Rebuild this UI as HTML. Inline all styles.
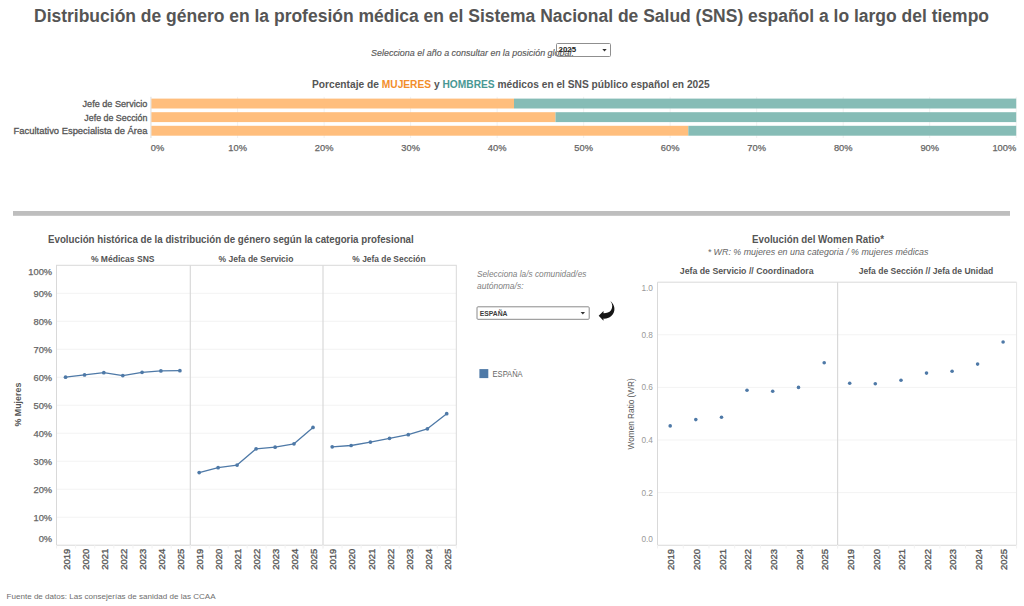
<!DOCTYPE html>
<html><head><meta charset="utf-8"><title>Distribución de género SNS</title>
<style>html,body{margin:0;padding:0;background:#fff;width:1024px;height:606px;overflow:hidden}svg{display:block}text{font-family:"Liberation Sans",sans-serif}</style></head>
<body><svg width="1024" height="606" viewBox="0 0 1024 606">
<rect width="1024" height="606" fill="#fff"/>
<text x="511.5" y="21.8" font-size="17.5" font-weight="bold" font-style="normal" fill="#555" text-anchor="middle" textLength="955" lengthAdjust="spacingAndGlyphs">Distribución de género en la profesión médica en el Sistema Nacional de Salud (SNS) español a lo largo del tiempo</text>
<text x="371" y="55.6" font-size="9" font-weight="normal" font-style="italic" fill="#5a5a5a" text-anchor="start" textLength="203" lengthAdjust="spacingAndGlyphs" stroke="#5a5a5a" stroke-width="0.15">Selecciona el año a consultar en la posición global.</text>
<rect x="556.5" y="43.5" width="54" height="13" rx="1" fill="none" stroke="#8f8f8f" stroke-width="1"/>
<text x="558.6" y="52" font-size="7.5" font-weight="bold" font-style="normal" fill="#222" text-anchor="start" textLength="17.5" lengthAdjust="spacingAndGlyphs">2025</text>
<path d="M602.3 49 L606.7 49 L604.5 51.6 Z" fill="#333"/>
<text x="312" y="87.6" font-size="10.6" font-weight="bold" fill="#555" textLength="397.6" lengthAdjust="spacingAndGlyphs">Porcentaje de <tspan fill="#F28E2B">MUJERES</tspan> y <tspan fill="#499894">HOMBRES</tspan> médicos en el SNS público español en 2025</text>
<text x="147.4" y="107.1" font-size="9.3" font-weight="normal" font-style="normal" fill="#555" text-anchor="end" textLength="64.9" lengthAdjust="spacingAndGlyphs" stroke="#555" stroke-width="0.3">Jefe de Servicio</text>
<text x="147.4" y="120.6" font-size="9.3" font-weight="normal" font-style="normal" fill="#555" text-anchor="end" textLength="63.1" lengthAdjust="spacingAndGlyphs" stroke="#555" stroke-width="0.3">Jefe de Sección</text>
<text x="147.4" y="134.1" font-size="9.3" font-weight="normal" font-style="normal" fill="#555" text-anchor="end" textLength="133.8" lengthAdjust="spacingAndGlyphs" stroke="#555" stroke-width="0.3">Facultativo Especialista de Área</text>
<line x1="151.1" y1="96.8" x2="151.1" y2="138" stroke="#f1f1f1" stroke-width="1"/>
<line x1="237.61" y1="96.8" x2="237.61" y2="138" stroke="#f1f1f1" stroke-width="1"/>
<line x1="324.12" y1="96.8" x2="324.12" y2="138" stroke="#f1f1f1" stroke-width="1"/>
<line x1="410.63" y1="96.8" x2="410.63" y2="138" stroke="#f1f1f1" stroke-width="1"/>
<line x1="497.14" y1="96.8" x2="497.14" y2="138" stroke="#f1f1f1" stroke-width="1"/>
<line x1="583.65" y1="96.8" x2="583.65" y2="138" stroke="#f1f1f1" stroke-width="1"/>
<line x1="670.1600000000001" y1="96.8" x2="670.1600000000001" y2="138" stroke="#f1f1f1" stroke-width="1"/>
<line x1="756.67" y1="96.8" x2="756.67" y2="138" stroke="#f1f1f1" stroke-width="1"/>
<line x1="843.1800000000001" y1="96.8" x2="843.1800000000001" y2="138" stroke="#f1f1f1" stroke-width="1"/>
<line x1="929.69" y1="96.8" x2="929.69" y2="138" stroke="#f1f1f1" stroke-width="1"/>
<line x1="1016.2" y1="96.8" x2="1016.2" y2="138" stroke="#f1f1f1" stroke-width="1"/>
<rect x="151.1" y="98.6" width="362.9" height="9.9" fill="#FFBE7D"/>
<rect x="514.0" y="98.6" width="502.20000000000005" height="9.9" fill="#86BCB6"/>
<rect x="151.1" y="112.2" width="404.4" height="9.9" fill="#FFBE7D"/>
<rect x="555.5" y="112.2" width="460.70000000000005" height="9.9" fill="#86BCB6"/>
<rect x="151.1" y="125.8" width="537.1999999999999" height="9.9" fill="#FFBE7D"/>
<rect x="688.3" y="125.8" width="327.9000000000001" height="9.9" fill="#86BCB6"/>
<line x1="150.9" y1="96.8" x2="150.9" y2="138" stroke="#e2e2e2" stroke-width="1"/>
<text x="150.8" y="151.2" font-size="9.3" font-weight="normal" font-style="normal" fill="#666" text-anchor="start" stroke="#666" stroke-width="0.25">0%</text>
<text x="237.61" y="151.2" font-size="9.3" font-weight="normal" font-style="normal" fill="#666" text-anchor="middle" stroke="#666" stroke-width="0.25">10%</text>
<text x="324.12" y="151.2" font-size="9.3" font-weight="normal" font-style="normal" fill="#666" text-anchor="middle" stroke="#666" stroke-width="0.25">20%</text>
<text x="410.63" y="151.2" font-size="9.3" font-weight="normal" font-style="normal" fill="#666" text-anchor="middle" stroke="#666" stroke-width="0.25">30%</text>
<text x="497.14" y="151.2" font-size="9.3" font-weight="normal" font-style="normal" fill="#666" text-anchor="middle" stroke="#666" stroke-width="0.25">40%</text>
<text x="583.65" y="151.2" font-size="9.3" font-weight="normal" font-style="normal" fill="#666" text-anchor="middle" stroke="#666" stroke-width="0.25">50%</text>
<text x="670.16" y="151.2" font-size="9.3" font-weight="normal" font-style="normal" fill="#666" text-anchor="middle" stroke="#666" stroke-width="0.25">60%</text>
<text x="756.67" y="151.2" font-size="9.3" font-weight="normal" font-style="normal" fill="#666" text-anchor="middle" stroke="#666" stroke-width="0.25">70%</text>
<text x="843.18" y="151.2" font-size="9.3" font-weight="normal" font-style="normal" fill="#666" text-anchor="middle" stroke="#666" stroke-width="0.25">80%</text>
<text x="929.69" y="151.2" font-size="9.3" font-weight="normal" font-style="normal" fill="#666" text-anchor="middle" stroke="#666" stroke-width="0.25">90%</text>
<text x="1016.2" y="151.2" font-size="9.3" font-weight="normal" font-style="normal" fill="#666" text-anchor="end" stroke="#666" stroke-width="0.25">100%</text>
<rect x="13" y="211" width="997" height="4.8" fill="#BEBEBE"/>
<text x="48" y="242.6" font-size="10.5" font-weight="bold" font-style="normal" fill="#555" text-anchor="start" textLength="365.7" lengthAdjust="spacingAndGlyphs">Evolución histórica de la distribución de género según la categoria profesional</text>
<text x="122.7" y="262.1" font-size="8.8" font-weight="bold" font-style="normal" fill="#555" text-anchor="middle" textLength="63.6" lengthAdjust="spacingAndGlyphs">% Médicas SNS</text>
<text x="255.95" y="262.1" font-size="8.8" font-weight="bold" font-style="normal" fill="#555" text-anchor="middle" textLength="74.9" lengthAdjust="spacingAndGlyphs">% Jefa de Servicio</text>
<text x="388.95" y="262.1" font-size="8.8" font-weight="bold" font-style="normal" fill="#555" text-anchor="middle" textLength="73.2" lengthAdjust="spacingAndGlyphs">% Jefa de Sección</text>
<line x1="56.5" y1="517.21" x2="456.3" y2="517.21" stroke="#f3f3f3" stroke-width="1"/>
<line x1="56.5" y1="489.22" x2="456.3" y2="489.22" stroke="#f3f3f3" stroke-width="1"/>
<line x1="56.5" y1="461.23" x2="456.3" y2="461.23" stroke="#f3f3f3" stroke-width="1"/>
<line x1="56.5" y1="433.24" x2="456.3" y2="433.24" stroke="#f3f3f3" stroke-width="1"/>
<line x1="56.5" y1="405.25" x2="456.3" y2="405.25" stroke="#f3f3f3" stroke-width="1"/>
<line x1="56.5" y1="377.26" x2="456.3" y2="377.26" stroke="#f3f3f3" stroke-width="1"/>
<line x1="56.5" y1="349.27" x2="456.3" y2="349.27" stroke="#f3f3f3" stroke-width="1"/>
<line x1="56.5" y1="321.28" x2="456.3" y2="321.28" stroke="#f3f3f3" stroke-width="1"/>
<line x1="56.5" y1="293.29" x2="456.3" y2="293.29" stroke="#f3f3f3" stroke-width="1"/>
<rect x="56.5" y="265.3" width="399.8" height="279.90000000000003" fill="none" stroke="#d9d9d9" stroke-width="1"/>
<line x1="190.3" y1="265.3" x2="190.3" y2="545.2" stroke="#d9d9d9" stroke-width="1.2"/>
<line x1="323.0" y1="265.3" x2="323.0" y2="545.2" stroke="#d9d9d9" stroke-width="1.2"/>
<text x="52.1" y="542.2" font-size="9.3" font-weight="normal" font-style="normal" fill="#666" text-anchor="end" stroke="#666" stroke-width="0.25">0%</text>
<text x="52.1" y="520.51" font-size="9.3" font-weight="normal" font-style="normal" fill="#666" text-anchor="end" stroke="#666" stroke-width="0.25">10%</text>
<text x="52.1" y="492.52" font-size="9.3" font-weight="normal" font-style="normal" fill="#666" text-anchor="end" stroke="#666" stroke-width="0.25">20%</text>
<text x="52.1" y="464.53" font-size="9.3" font-weight="normal" font-style="normal" fill="#666" text-anchor="end" stroke="#666" stroke-width="0.25">30%</text>
<text x="52.1" y="436.54" font-size="9.3" font-weight="normal" font-style="normal" fill="#666" text-anchor="end" stroke="#666" stroke-width="0.25">40%</text>
<text x="52.1" y="408.55" font-size="9.3" font-weight="normal" font-style="normal" fill="#666" text-anchor="end" stroke="#666" stroke-width="0.25">50%</text>
<text x="52.1" y="380.56" font-size="9.3" font-weight="normal" font-style="normal" fill="#666" text-anchor="end" stroke="#666" stroke-width="0.25">60%</text>
<text x="52.1" y="352.57" font-size="9.3" font-weight="normal" font-style="normal" fill="#666" text-anchor="end" stroke="#666" stroke-width="0.25">70%</text>
<text x="52.1" y="324.58" font-size="9.3" font-weight="normal" font-style="normal" fill="#666" text-anchor="end" stroke="#666" stroke-width="0.25">80%</text>
<text x="52.1" y="296.59" font-size="9.3" font-weight="normal" font-style="normal" fill="#666" text-anchor="end" stroke="#666" stroke-width="0.25">90%</text>
<text x="52.1" y="274.7" font-size="9.3" font-weight="normal" font-style="normal" fill="#666" text-anchor="end" stroke="#666" stroke-width="0.25">100%</text>
<text x="0" y="0" font-size="8.9" font-weight="bold" font-style="normal" fill="#555" text-anchor="middle" transform="translate(21.2,404.6) rotate(-90)">% Mujeres</text>
<polyline points="65.56,377.2 84.55,374.9 103.8,372.7 122.8,375.6 142.05,372.3 160.9,370.9 179.9,370.7" fill="none" stroke="#4E79A7" stroke-width="1.3" stroke-linejoin="round"/>
<circle cx="65.56" cy="377.2" r="1.85" fill="#4E79A7"/>
<circle cx="84.55" cy="374.9" r="1.85" fill="#4E79A7"/>
<circle cx="103.8" cy="372.7" r="1.85" fill="#4E79A7"/>
<circle cx="122.8" cy="375.6" r="1.85" fill="#4E79A7"/>
<circle cx="142.05" cy="372.3" r="1.85" fill="#4E79A7"/>
<circle cx="160.9" cy="370.9" r="1.85" fill="#4E79A7"/>
<circle cx="179.9" cy="370.7" r="1.85" fill="#4E79A7"/>
<text x="0" y="0" font-size="9.5" font-weight="normal" font-style="normal" fill="#555" text-anchor="end" transform="translate(69.76,548.7) rotate(-90)" stroke="#555" stroke-width="0.32">2019</text>
<text x="0" y="0" font-size="9.5" font-weight="normal" font-style="normal" fill="#555" text-anchor="end" transform="translate(88.75,548.7) rotate(-90)" stroke="#555" stroke-width="0.32">2020</text>
<text x="0" y="0" font-size="9.5" font-weight="normal" font-style="normal" fill="#555" text-anchor="end" transform="translate(108.0,548.7) rotate(-90)" stroke="#555" stroke-width="0.32">2021</text>
<text x="0" y="0" font-size="9.5" font-weight="normal" font-style="normal" fill="#555" text-anchor="end" transform="translate(127.0,548.7) rotate(-90)" stroke="#555" stroke-width="0.32">2022</text>
<text x="0" y="0" font-size="9.5" font-weight="normal" font-style="normal" fill="#555" text-anchor="end" transform="translate(146.25,548.7) rotate(-90)" stroke="#555" stroke-width="0.32">2023</text>
<text x="0" y="0" font-size="9.5" font-weight="normal" font-style="normal" fill="#555" text-anchor="end" transform="translate(165.1,548.7) rotate(-90)" stroke="#555" stroke-width="0.32">2024</text>
<text x="0" y="0" font-size="9.5" font-weight="normal" font-style="normal" fill="#555" text-anchor="end" transform="translate(184.1,548.7) rotate(-90)" stroke="#555" stroke-width="0.32">2025</text>
<polyline points="199.2,472.6 218.1,467.7 237.1,465.1 256.1,448.8 275.1,447.2 294.0,443.8 313.0,427.4" fill="none" stroke="#4E79A7" stroke-width="1.3" stroke-linejoin="round"/>
<circle cx="199.2" cy="472.6" r="1.85" fill="#4E79A7"/>
<circle cx="218.1" cy="467.7" r="1.85" fill="#4E79A7"/>
<circle cx="237.1" cy="465.1" r="1.85" fill="#4E79A7"/>
<circle cx="256.1" cy="448.8" r="1.85" fill="#4E79A7"/>
<circle cx="275.1" cy="447.2" r="1.85" fill="#4E79A7"/>
<circle cx="294.0" cy="443.8" r="1.85" fill="#4E79A7"/>
<circle cx="313.0" cy="427.4" r="1.85" fill="#4E79A7"/>
<text x="0" y="0" font-size="9.5" font-weight="normal" font-style="normal" fill="#555" text-anchor="end" transform="translate(203.4,548.7) rotate(-90)" stroke="#555" stroke-width="0.32">2019</text>
<text x="0" y="0" font-size="9.5" font-weight="normal" font-style="normal" fill="#555" text-anchor="end" transform="translate(222.3,548.7) rotate(-90)" stroke="#555" stroke-width="0.32">2020</text>
<text x="0" y="0" font-size="9.5" font-weight="normal" font-style="normal" fill="#555" text-anchor="end" transform="translate(241.3,548.7) rotate(-90)" stroke="#555" stroke-width="0.32">2021</text>
<text x="0" y="0" font-size="9.5" font-weight="normal" font-style="normal" fill="#555" text-anchor="end" transform="translate(260.3,548.7) rotate(-90)" stroke="#555" stroke-width="0.32">2022</text>
<text x="0" y="0" font-size="9.5" font-weight="normal" font-style="normal" fill="#555" text-anchor="end" transform="translate(279.3,548.7) rotate(-90)" stroke="#555" stroke-width="0.32">2023</text>
<text x="0" y="0" font-size="9.5" font-weight="normal" font-style="normal" fill="#555" text-anchor="end" transform="translate(298.2,548.7) rotate(-90)" stroke="#555" stroke-width="0.32">2024</text>
<text x="0" y="0" font-size="9.5" font-weight="normal" font-style="normal" fill="#555" text-anchor="end" transform="translate(317.2,548.7) rotate(-90)" stroke="#555" stroke-width="0.32">2025</text>
<polyline points="332.2,446.8 351.1,445.5 370.4,442.1 389.5,438.3 408.3,434.7 427.4,428.8 446.7,413.7" fill="none" stroke="#4E79A7" stroke-width="1.3" stroke-linejoin="round"/>
<circle cx="332.2" cy="446.8" r="1.85" fill="#4E79A7"/>
<circle cx="351.1" cy="445.5" r="1.85" fill="#4E79A7"/>
<circle cx="370.4" cy="442.1" r="1.85" fill="#4E79A7"/>
<circle cx="389.5" cy="438.3" r="1.85" fill="#4E79A7"/>
<circle cx="408.3" cy="434.7" r="1.85" fill="#4E79A7"/>
<circle cx="427.4" cy="428.8" r="1.85" fill="#4E79A7"/>
<circle cx="446.7" cy="413.7" r="1.85" fill="#4E79A7"/>
<text x="0" y="0" font-size="9.5" font-weight="normal" font-style="normal" fill="#555" text-anchor="end" transform="translate(336.4,548.7) rotate(-90)" stroke="#555" stroke-width="0.32">2019</text>
<text x="0" y="0" font-size="9.5" font-weight="normal" font-style="normal" fill="#555" text-anchor="end" transform="translate(355.3,548.7) rotate(-90)" stroke="#555" stroke-width="0.32">2020</text>
<text x="0" y="0" font-size="9.5" font-weight="normal" font-style="normal" fill="#555" text-anchor="end" transform="translate(374.6,548.7) rotate(-90)" stroke="#555" stroke-width="0.32">2021</text>
<text x="0" y="0" font-size="9.5" font-weight="normal" font-style="normal" fill="#555" text-anchor="end" transform="translate(393.7,548.7) rotate(-90)" stroke="#555" stroke-width="0.32">2022</text>
<text x="0" y="0" font-size="9.5" font-weight="normal" font-style="normal" fill="#555" text-anchor="end" transform="translate(412.5,548.7) rotate(-90)" stroke="#555" stroke-width="0.32">2023</text>
<text x="0" y="0" font-size="9.5" font-weight="normal" font-style="normal" fill="#555" text-anchor="end" transform="translate(431.6,548.7) rotate(-90)" stroke="#555" stroke-width="0.32">2024</text>
<text x="0" y="0" font-size="9.5" font-weight="normal" font-style="normal" fill="#555" text-anchor="end" transform="translate(450.9,548.7) rotate(-90)" stroke="#555" stroke-width="0.32">2025</text>
<line x1="56.5" y1="545.2" x2="56.5" y2="548.5" stroke="#f2f2f2" stroke-width="1"/>
<line x1="75.61" y1="545.2" x2="75.61" y2="548.5" stroke="#f2f2f2" stroke-width="1"/>
<line x1="94.73" y1="545.2" x2="94.73" y2="548.5" stroke="#f2f2f2" stroke-width="1"/>
<line x1="113.84" y1="545.2" x2="113.84" y2="548.5" stroke="#f2f2f2" stroke-width="1"/>
<line x1="132.96" y1="545.2" x2="132.96" y2="548.5" stroke="#f2f2f2" stroke-width="1"/>
<line x1="152.07" y1="545.2" x2="152.07" y2="548.5" stroke="#f2f2f2" stroke-width="1"/>
<line x1="171.19" y1="545.2" x2="171.19" y2="548.5" stroke="#f2f2f2" stroke-width="1"/>
<line x1="190.3" y1="545.2" x2="190.3" y2="548.5" stroke="#f2f2f2" stroke-width="1"/>
<line x1="190.3" y1="545.2" x2="190.3" y2="548.5" stroke="#f2f2f2" stroke-width="1"/>
<line x1="209.26" y1="545.2" x2="209.26" y2="548.5" stroke="#f2f2f2" stroke-width="1"/>
<line x1="228.21" y1="545.2" x2="228.21" y2="548.5" stroke="#f2f2f2" stroke-width="1"/>
<line x1="247.17" y1="545.2" x2="247.17" y2="548.5" stroke="#f2f2f2" stroke-width="1"/>
<line x1="266.13" y1="545.2" x2="266.13" y2="548.5" stroke="#f2f2f2" stroke-width="1"/>
<line x1="285.09" y1="545.2" x2="285.09" y2="548.5" stroke="#f2f2f2" stroke-width="1"/>
<line x1="304.04" y1="545.2" x2="304.04" y2="548.5" stroke="#f2f2f2" stroke-width="1"/>
<line x1="323.0" y1="545.2" x2="323.0" y2="548.5" stroke="#f2f2f2" stroke-width="1"/>
<line x1="323.0" y1="545.2" x2="323.0" y2="548.5" stroke="#f2f2f2" stroke-width="1"/>
<line x1="342.04" y1="545.2" x2="342.04" y2="548.5" stroke="#f2f2f2" stroke-width="1"/>
<line x1="361.09" y1="545.2" x2="361.09" y2="548.5" stroke="#f2f2f2" stroke-width="1"/>
<line x1="380.13" y1="545.2" x2="380.13" y2="548.5" stroke="#f2f2f2" stroke-width="1"/>
<line x1="399.17" y1="545.2" x2="399.17" y2="548.5" stroke="#f2f2f2" stroke-width="1"/>
<line x1="418.21" y1="545.2" x2="418.21" y2="548.5" stroke="#f2f2f2" stroke-width="1"/>
<line x1="437.26" y1="545.2" x2="437.26" y2="548.5" stroke="#f2f2f2" stroke-width="1"/>
<line x1="456.3" y1="545.2" x2="456.3" y2="548.5" stroke="#f2f2f2" stroke-width="1"/>
<text x="477" y="277.2" font-size="8.27" font-weight="normal" font-style="italic" fill="#808080" text-anchor="start" textLength="109.4" lengthAdjust="spacingAndGlyphs">Selecciona la/s comunidad/es</text>
<text x="477" y="288.9" font-size="8.27" font-weight="normal" font-style="italic" fill="#808080" text-anchor="start" textLength="46.5" lengthAdjust="spacingAndGlyphs">autónoma/s:</text>
<rect x="477" y="306.8" width="112.2" height="12.5" rx="1" fill="none" stroke="#8a8a8a" stroke-width="1"/>
<text x="479.7" y="316.2" font-size="6.9" font-weight="bold" font-style="normal" fill="#3c3c3c" text-anchor="start" textLength="27.8" lengthAdjust="spacingAndGlyphs">ESPAÑA</text>
<path d="M580.6 312.0 L585.0 312.0 L582.8 314.6 Z" fill="#333"/>
<path d="M610.4 301.1 C614.8 304.5 616.4 311.6 611.3 316.0 C608.9 318.2 606 318.8 603.5 318.6 L603.5 320.8 L598.7 315.8 L603.5 310.9 L603.5 313.3 C606.3 313.4 609.2 312.6 611 310.3 C612.8 307.8 612.7 304 610.4 301.1 Z" fill="#161616"/>
<rect x="479.4" y="369.1" width="8.9" height="9" fill="#4E79A7"/>
<text x="492.6" y="376.7" font-size="8.8" font-weight="normal" font-style="normal" fill="#666" text-anchor="start" textLength="30" lengthAdjust="spacingAndGlyphs">ESPAÑA</text>
<text x="752" y="242.8" font-size="10.5" font-weight="bold" font-style="normal" fill="#555" text-anchor="start" textLength="132" lengthAdjust="spacingAndGlyphs">Evolución del Women Ratio*</text>
<text x="707.7" y="255.4" font-size="8.87" font-weight="normal" font-style="italic" fill="#666" text-anchor="start" textLength="220.8" lengthAdjust="spacingAndGlyphs">* WR: % mujeres en una categoria / % mujeres médicas</text>
<text x="679.8" y="274.0" font-size="9" font-weight="bold" font-style="normal" fill="#555" text-anchor="start" textLength="133.8" lengthAdjust="spacingAndGlyphs">Jefa de Servicio //  Coordinadora</text>
<text x="858.8" y="274.0" font-size="9" font-weight="bold" font-style="normal" fill="#555" text-anchor="start" textLength="134.5" lengthAdjust="spacingAndGlyphs">Jefa de Sección // Jefa de Unidad</text>
<line x1="657.5" y1="492.64" x2="1016.6" y2="492.64" stroke="#f3f3f3" stroke-width="1"/>
<line x1="657.5" y1="440.03" x2="1016.6" y2="440.03" stroke="#f3f3f3" stroke-width="1"/>
<line x1="657.5" y1="387.42" x2="1016.6" y2="387.42" stroke="#f3f3f3" stroke-width="1"/>
<line x1="657.5" y1="334.81" x2="1016.6" y2="334.81" stroke="#f3f3f3" stroke-width="1"/>
<path d="M1016.6 282.2 L657.5 282.2 L657.5 545.25 L1016.6 545.25" fill="none" stroke="#d9d9d9" stroke-width="1"/>
<line x1="1016.6" y1="282.2" x2="1016.6" y2="545.25" stroke="#e6e6e6" stroke-width="1"/>
<line x1="837.6" y1="282.2" x2="837.6" y2="545.25" stroke="#d9d9d9" stroke-width="1.2"/>
<text x="653" y="542.2" font-size="8.3" font-weight="normal" font-style="normal" fill="#999" text-anchor="end">0.0</text>
<text x="653" y="495.64" font-size="8.3" font-weight="normal" font-style="normal" fill="#999" text-anchor="end">0.2</text>
<text x="653" y="443.03" font-size="8.3" font-weight="normal" font-style="normal" fill="#999" text-anchor="end">0.4</text>
<text x="653" y="390.42" font-size="8.3" font-weight="normal" font-style="normal" fill="#999" text-anchor="end">0.6</text>
<text x="653" y="337.81" font-size="8.3" font-weight="normal" font-style="normal" fill="#999" text-anchor="end">0.8</text>
<text x="653" y="291.2" font-size="8.3" font-weight="normal" font-style="normal" fill="#999" text-anchor="end">1.0</text>
<text x="0" y="0" font-size="8.24" font-weight="normal" font-style="normal" fill="#555" text-anchor="middle" transform="translate(633.6,413.8) rotate(-90)">Women Ratio (WR)</text>
<circle cx="670.2" cy="425.9" r="1.8" fill="#4E79A7"/>
<circle cx="695.8" cy="419.6" r="1.8" fill="#4E79A7"/>
<circle cx="721.5" cy="417.3" r="1.8" fill="#4E79A7"/>
<circle cx="747.0" cy="390.3" r="1.8" fill="#4E79A7"/>
<circle cx="772.7" cy="391.3" r="1.8" fill="#4E79A7"/>
<circle cx="798.5" cy="387.4" r="1.8" fill="#4E79A7"/>
<circle cx="824.2" cy="362.8" r="1.8" fill="#4E79A7"/>
<text x="0" y="0" font-size="9.5" font-weight="normal" font-style="normal" fill="#555" text-anchor="end" transform="translate(674.4,548.9) rotate(-90)" stroke="#555" stroke-width="0.32">2019</text>
<text x="0" y="0" font-size="9.5" font-weight="normal" font-style="normal" fill="#555" text-anchor="end" transform="translate(700.0,548.9) rotate(-90)" stroke="#555" stroke-width="0.32">2020</text>
<text x="0" y="0" font-size="9.5" font-weight="normal" font-style="normal" fill="#555" text-anchor="end" transform="translate(725.7,548.9) rotate(-90)" stroke="#555" stroke-width="0.32">2021</text>
<text x="0" y="0" font-size="9.5" font-weight="normal" font-style="normal" fill="#555" text-anchor="end" transform="translate(751.2,548.9) rotate(-90)" stroke="#555" stroke-width="0.32">2022</text>
<text x="0" y="0" font-size="9.5" font-weight="normal" font-style="normal" fill="#555" text-anchor="end" transform="translate(776.9,548.9) rotate(-90)" stroke="#555" stroke-width="0.32">2023</text>
<text x="0" y="0" font-size="9.5" font-weight="normal" font-style="normal" fill="#555" text-anchor="end" transform="translate(802.7,548.9) rotate(-90)" stroke="#555" stroke-width="0.32">2024</text>
<text x="0" y="0" font-size="9.5" font-weight="normal" font-style="normal" fill="#555" text-anchor="end" transform="translate(828.4,548.9) rotate(-90)" stroke="#555" stroke-width="0.32">2025</text>
<line x1="657.5" y1="545.25" x2="657.5" y2="548.5" stroke="#f2f2f2" stroke-width="1"/>
<line x1="683.23" y1="545.25" x2="683.23" y2="548.5" stroke="#f2f2f2" stroke-width="1"/>
<line x1="708.96" y1="545.25" x2="708.96" y2="548.5" stroke="#f2f2f2" stroke-width="1"/>
<line x1="734.69" y1="545.25" x2="734.69" y2="548.5" stroke="#f2f2f2" stroke-width="1"/>
<line x1="760.41" y1="545.25" x2="760.41" y2="548.5" stroke="#f2f2f2" stroke-width="1"/>
<line x1="786.14" y1="545.25" x2="786.14" y2="548.5" stroke="#f2f2f2" stroke-width="1"/>
<line x1="811.87" y1="545.25" x2="811.87" y2="548.5" stroke="#f2f2f2" stroke-width="1"/>
<line x1="837.6" y1="545.25" x2="837.6" y2="548.5" stroke="#f2f2f2" stroke-width="1"/>
<circle cx="849.7" cy="383.3" r="1.8" fill="#4E79A7"/>
<circle cx="875.3" cy="383.8" r="1.8" fill="#4E79A7"/>
<circle cx="901.0" cy="380.3" r="1.8" fill="#4E79A7"/>
<circle cx="926.5" cy="373.1" r="1.8" fill="#4E79A7"/>
<circle cx="952.1" cy="371.3" r="1.8" fill="#4E79A7"/>
<circle cx="977.6" cy="364.1" r="1.8" fill="#4E79A7"/>
<circle cx="1003.1" cy="342.0" r="1.8" fill="#4E79A7"/>
<text x="0" y="0" font-size="9.5" font-weight="normal" font-style="normal" fill="#555" text-anchor="end" transform="translate(853.9,548.9) rotate(-90)" stroke="#555" stroke-width="0.32">2019</text>
<text x="0" y="0" font-size="9.5" font-weight="normal" font-style="normal" fill="#555" text-anchor="end" transform="translate(879.5,548.9) rotate(-90)" stroke="#555" stroke-width="0.32">2020</text>
<text x="0" y="0" font-size="9.5" font-weight="normal" font-style="normal" fill="#555" text-anchor="end" transform="translate(905.2,548.9) rotate(-90)" stroke="#555" stroke-width="0.32">2021</text>
<text x="0" y="0" font-size="9.5" font-weight="normal" font-style="normal" fill="#555" text-anchor="end" transform="translate(930.7,548.9) rotate(-90)" stroke="#555" stroke-width="0.32">2022</text>
<text x="0" y="0" font-size="9.5" font-weight="normal" font-style="normal" fill="#555" text-anchor="end" transform="translate(956.3,548.9) rotate(-90)" stroke="#555" stroke-width="0.32">2023</text>
<text x="0" y="0" font-size="9.5" font-weight="normal" font-style="normal" fill="#555" text-anchor="end" transform="translate(981.8,548.9) rotate(-90)" stroke="#555" stroke-width="0.32">2024</text>
<text x="0" y="0" font-size="9.5" font-weight="normal" font-style="normal" fill="#555" text-anchor="end" transform="translate(1007.3,548.9) rotate(-90)" stroke="#555" stroke-width="0.32">2025</text>
<line x1="837.6" y1="545.25" x2="837.6" y2="548.5" stroke="#f2f2f2" stroke-width="1"/>
<line x1="863.17" y1="545.25" x2="863.17" y2="548.5" stroke="#f2f2f2" stroke-width="1"/>
<line x1="888.74" y1="545.25" x2="888.74" y2="548.5" stroke="#f2f2f2" stroke-width="1"/>
<line x1="914.31" y1="545.25" x2="914.31" y2="548.5" stroke="#f2f2f2" stroke-width="1"/>
<line x1="939.89" y1="545.25" x2="939.89" y2="548.5" stroke="#f2f2f2" stroke-width="1"/>
<line x1="965.46" y1="545.25" x2="965.46" y2="548.5" stroke="#f2f2f2" stroke-width="1"/>
<line x1="991.03" y1="545.25" x2="991.03" y2="548.5" stroke="#f2f2f2" stroke-width="1"/>
<line x1="1016.6" y1="545.25" x2="1016.6" y2="548.5" stroke="#f2f2f2" stroke-width="1"/>
<text x="6.6" y="598.7" font-size="8.05" font-weight="normal" font-style="normal" fill="#6e6e6e" text-anchor="start" textLength="209" lengthAdjust="spacingAndGlyphs">Fuente de datos: Las consejerías de sanidad de las CCAA</text>
</svg></body></html>
